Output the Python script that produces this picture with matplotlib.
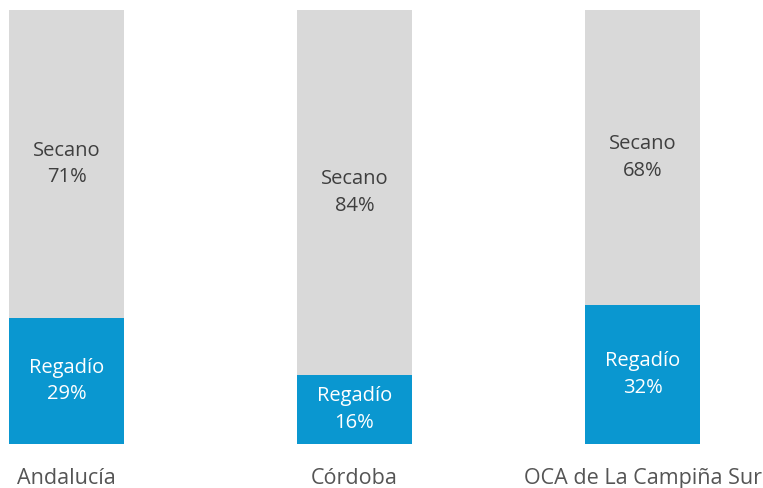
import numpy as np
import matplotlib
matplotlib.use("Agg")
import matplotlib.pyplot as plt

plt.rcParams['font.family'] = ['Open Sans', 'DejaVu Sans']

# data (percent of cultivated land)
zonas = ["Andalucía", "Córdoba", "OCA de La Campiña Sur"]
regadio = [29, 16, 32]
secano = [71, 84, 68]

color_regadio = "#0a97d0"
color_secano = "#d9d9d9"

fig = plt.figure(figsize=(7.63, 4.88), dpi=100)
# axes spans the full width; bar centres fall at 66.5, 354.5, 642.5 px
ax = fig.add_axes([0, 44 / 488, 1, 434 / 488])

x = np.arange(len(zonas))
reg = np.array(regadio) / 100
sec = np.array(secano) / 100

ax.bar(x, reg, width=0.4, color=color_regadio)
ax.bar(x, sec, width=0.4, bottom=reg, color=color_secano)

for i in range(len(zonas)):
    ax.text(x[i], reg[i] / 2, f"Regadío\n{regadio[i]}%", ha="center", va="center",
            color="white", fontsize=14.5, linespacing=1.45)
    ax.text(x[i], reg[i] + sec[i] / 2, f"Secano\n{secano[i]}%", ha="center", va="center",
            color="#3f3f3f", fontsize=14.5, linespacing=1.45)

ax.set_xlim(-66.5 / 288, (763 - 66.5) / 288)
ax.set_ylim(0, 1)
ax.set_xticks(x)
ax.set_xticklabels(zonas, fontsize=15.5, color="#555555")
ax.tick_params(axis="x", length=0, pad=17)
ax.set_yticks([])
for s in ax.spines.values():
    s.set_visible(False)

fig.savefig("out.png", dpi=100)
plt.close()
